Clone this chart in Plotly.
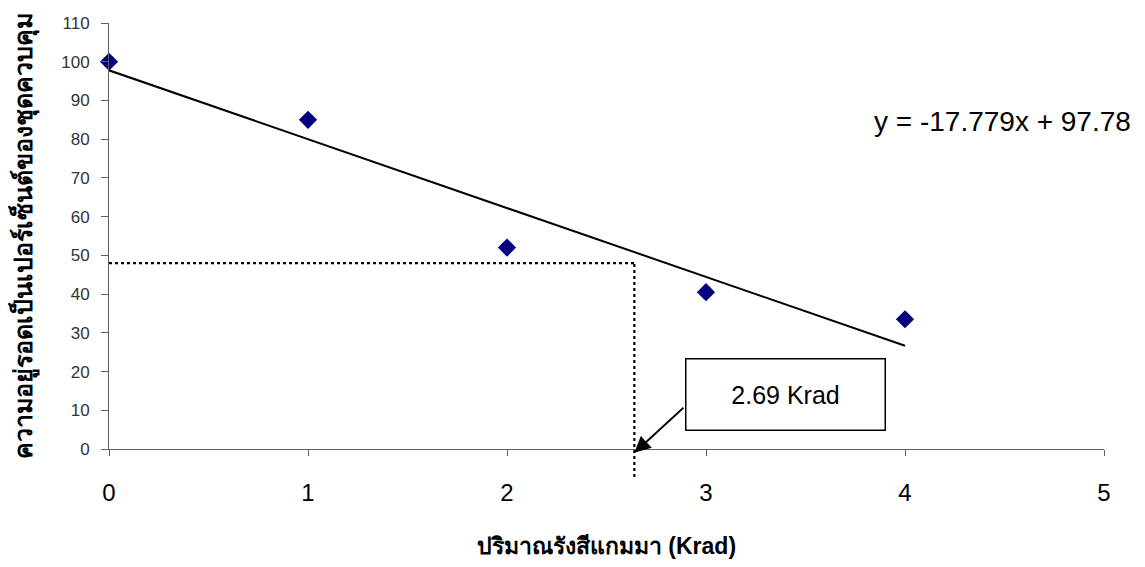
import plotly.graph_objects as go

# Data
dose = [0, 1, 2, 3, 4]
survival = [100, 85, 52, 40.5, 33.5]
slope = -17.779
intercept = 97.78
trend_x = [0, 4]
trend_y = [intercept + slope * v for v in trend_x]

ld50_y = 48
ld50_x = 2.64
x_ticks = [0, 1, 2, 3, 4, 5]
y_ticks = list(range(0, 111, 10))
Y_MAX = 110

x_title = "ปริมาณรังสีแกมมา (Krad)"
y_title = "ความอยู่รอดเป็นเปอร์เซ็นต์ของชุดควบคุม"
eq_text = "y = -17.779x + 97.78"
box_text = "2.69 Krad"

FONT = "Arial, Liberation Sans, sans-serif"

fig = go.Figure()

fig.add_trace(go.Scatter(
    x=trend_x, y=trend_y, mode="lines",
    line=dict(color="black", width=2), hoverinfo="skip", showlegend=False))

fig.add_trace(go.Scatter(
    x=dose, y=survival, mode="markers",
    marker=dict(symbol="diamond", size=14, color="#000080"),
    cliponaxis=False, showlegend=False))

# dotted guide lines
fig.add_shape(type="line", xref="x", yref="y", x0=0, x1=ld50_x, y0=ld50_y, y1=ld50_y,
              line=dict(color="black", width=2.2, dash="dot"))
fig.add_shape(type="line", xref="x", yref="paper", x0=ld50_x, x1=ld50_x,
              y0=-7.2 / Y_MAX, y1=ld50_y / Y_MAX,
              line=dict(color="black", width=2.2, dash="dot"))

# equation
fig.add_annotation(x=4.49, y=84.5, xref="x", yref="y", text=eq_text, showarrow=False,
                   font=dict(family=FONT, size=28, color="black"))

# box label
fig.add_annotation(x=3.4, y=14.2, xref="x", yref="y", text=box_text, showarrow=False,
                   font=dict(family=FONT, size=25, color="black"),
                   bordercolor="black", borderwidth=1.5, borderpad=1,
                   width=196, height=68, bgcolor="white")

# arrow
fig.add_annotation(x=ld50_x, y=-1, xref="x", yref="y", ax=2.894, ay=11.0,
                   axref="x", ayref="y", text="", showarrow=True,
                   arrowhead=2, arrowsize=1.8, arrowwidth=1.8, arrowcolor="black",
                   standoff=0, startstandoff=0)

fig.update_layout(
    width=1137, height=559,
    margin=dict(l=101, r=41, t=15, b=118),
    plot_bgcolor="white", paper_bgcolor="white",
    font=dict(family=FONT),
    showlegend=False,
    xaxis=dict(range=[0, 5], tickvals=x_ticks, showgrid=False, zeroline=False,
               automargin=False,
               showline=True, linecolor="#606060", linewidth=1,
               ticks="outside", ticklen=6, tickcolor="#606060",
               tickfont=dict(size=24, color="black", family=FONT),
               ticklabelstandoff=16,
               title=dict(text="<b>" + x_title + "</b>", font=dict(size=23, color="black"),
                          standoff=33)),
    yaxis=dict(range=[0, Y_MAX], tickvals=y_ticks, showgrid=False, zeroline=False,
               automargin=False,
               showline=True, linecolor="#606060", linewidth=1,
               ticks="outside", ticklen=7, tickcolor="#606060",
               tickfont=dict(size=17, color="#333333", family=FONT),
               ticklabelstandoff=8,
               title=dict(text="<b>" + y_title + "</b>", font=dict(size=25, color="black"),
                          standoff=32)),
)

fig.write_html("out.html")
